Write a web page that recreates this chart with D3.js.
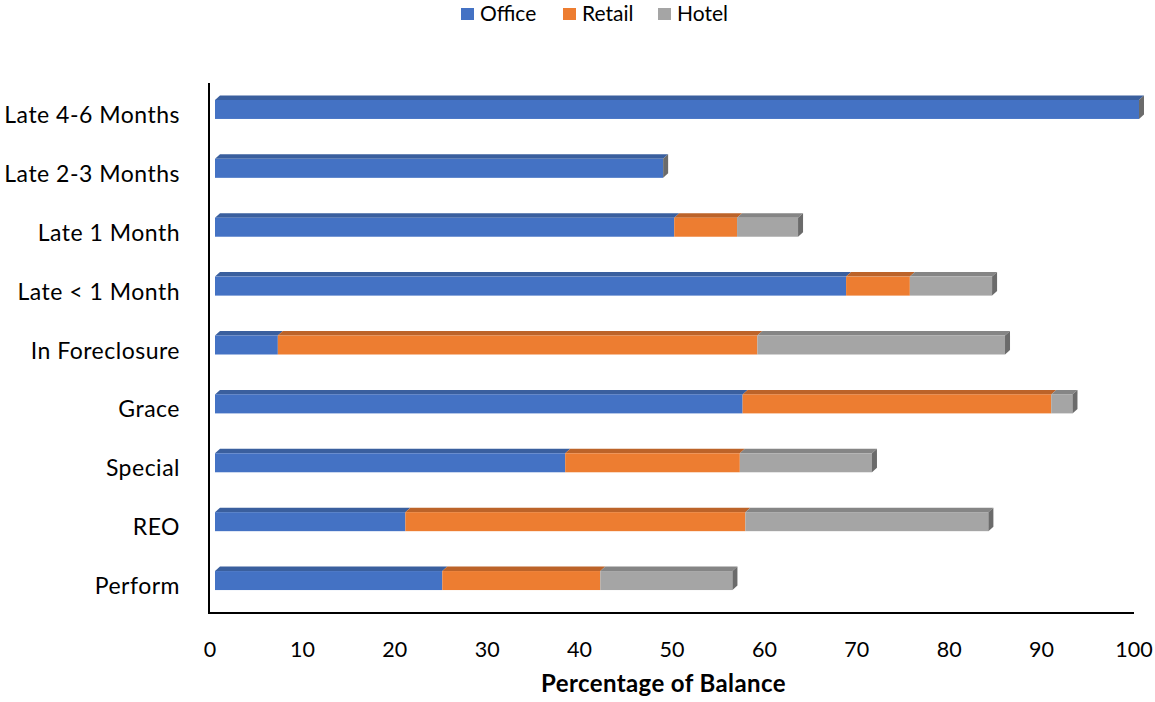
<!DOCTYPE html>
<html>
<head>
<meta charset="utf-8">
<script src="https://cdn.jsdelivr.net/npm/d3@7"></script>
<style>
  html, body { margin: 0; padding: 0; background: #fff; }
  svg { display: block; font-family: Lato, "Liberation Sans", sans-serif; }
</style>
</head>
<body>
<svg id="chart" width="1155" height="702"></svg>
<script>
const categories = ["Late 4-6 Months", "Late 2-3 Months", "Late 1 Month", "Late < 1 Month",
                    "In Foreclosure", "Grace", "Special", "REO", "Perform"];
const seriesNames = ["Office", "Retail", "Hotel"];
const office = [100, 48.5, 49.7, 68.3, 6.8, 57.1, 37.9, 20.6, 24.6];
const retail = [0, 0, 6.8, 6.9, 51.9, 33.4, 18.9, 36.8, 17.1];
const hotel  = [0, 0, 6.6, 8.9, 26.8, 2.3, 14.3, 26.3, 14.3];
const xTicks = [0, 10, 20, 30, 40, 50, 60, 70, 80, 90, 100];
const xTitle = "Percentage of Balance";

const colors = { Office: "#4472C4", Retail: "#ED7D31", Hotel: "#A5A5A5" };
const topColors = { Office: "#3A5F9E", Retail: "#BC6329", Hotel: "#858585" };

const svg = d3.select("#chart");
const plotLeft = 209, plotRight = 1134, plotTop = 83, plotBottom = 613;
const dx = 5, dy = 4.5; // 3D depth offset

const x = d3.scaleLinear().domain([0, 100]).range([plotLeft + 6, 1139]);
const y = d3.scaleBand().domain(categories).range([plotTop, plotBottom]);

const data = categories.map((c, i) => ({ cat: c, Office: office[i], Retail: retail[i], Hotel: hotel[i] }));
const stack = d3.stack().keys(seriesNames)(data);

const faceH = 19;
const faceTopOf = cat => y(cat) + y.bandwidth() / 2 - 12.5;

const g = svg.append("g");
stack.forEach(layer => {
  const key = layer.key;
  layer.forEach(d => {
    if (d[1] - d[0] <= 0) return;
    const x0 = x(d[0]), x1 = x(d[1]);
    const t = faceTopOf(d.data.cat);
    g.append("path")
      .attr("d", `M${x0},${t}L${x0 + dx},${t - dy}L${x1 + dx},${t - dy}L${x1},${t}Z`)
      .attr("fill", topColors[key]);
    g.append("rect")
      .attr("x", x0).attr("y", t).attr("width", x1 - x0).attr("height", faceH)
      .attr("fill", colors[key]);
  });
});
data.forEach(d => {
  const total = d.Office + d.Retail + d.Hotel;
  const x1 = x(total);
  const t = faceTopOf(d.cat), b = t + faceH;
  g.append("path")
    .attr("d", `M${x1},${t}L${x1 + dx},${t - dy}L${x1 + dx},${b - dy}L${x1},${b}Z`)
    .attr("fill", "#6B6B6B");
});

svg.append("line").attr("x1", plotLeft).attr("x2", plotLeft).attr("y1", plotTop).attr("y2", plotBottom + 1)
  .attr("stroke", "#000").attr("stroke-width", 2);
svg.append("line").attr("x1", plotLeft - 1).attr("x2", plotRight).attr("y1", plotBottom).attr("y2", plotBottom)
  .attr("stroke", "#000").attr("stroke-width", 2);

svg.append("g").selectAll("text").data(xTicks).join("text")
  .attr("x", d => x(d) - 5).attr("y", 657)
  .attr("text-anchor", "middle").attr("font-size", 21.5).attr("fill", "#000")
  .text(d => d);

svg.append("g").selectAll("text").data(categories).join("text")
  .attr("x", 180).attr("y", d => y(d) + y.bandwidth() / 2 + 10.5)
  .attr("text-anchor", "end").attr("font-size", 23).attr("letter-spacing", 0.5).attr("fill", "#000")
  .text(d => d);

svg.append("text").attr("x", 663.5).attr("y", 692)
  .attr("text-anchor", "middle").attr("font-size", 24).attr("letter-spacing", 0.4).attr("font-weight", "bold")
  .text(xTitle);

const legendX = [461, 563, 658];
const leg = svg.append("g");
seriesNames.forEach((s, i) => {
  leg.append("rect").attr("x", legendX[i]).attr("y", 8).attr("width", 13).attr("height", 12).attr("fill", colors[s]);
  leg.append("text").attr("x", legendX[i] + 19).attr("y", 21).attr("font-size", 21).text(s);
});
</script>
</body>
</html>
